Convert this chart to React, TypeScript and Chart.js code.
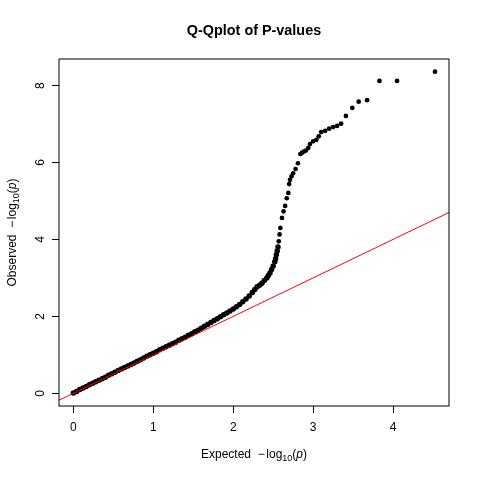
import { useEffect, useRef } from "react"
import { Chart, registerables } from "chart.js"

Chart.register(...registerables)

// expected -log10(p)
const expected = [
  0, 0.04, 0.08, 0.12, 0.16, 0.2, 0.24, 0.28, 0.32, 0.36,
  0.4, 0.44, 0.48, 0.52, 0.56, 0.6, 0.64, 0.68, 0.72, 0.76,
  0.8, 0.84, 0.88, 0.92, 0.96, 1.0, 1.04, 1.08, 1.12, 1.16,
  1.2, 1.24, 1.28, 1.32, 1.36, 1.4, 1.44, 1.48, 1.52, 1.56,
  1.6, 1.64, 1.68, 1.72, 1.76, 1.8, 1.84, 1.88, 1.92, 1.96,
  2.0, 2.04, 2.08, 2.12, 2.16, 2.2, 2.24, 2.27, 2.3, 2.33,
  2.36, 2.39, 2.42, 2.44, 2.46, 2.48, 2.5, 2.52, 2.53, 2.54,
  2.55, 2.56,
  2.57, 2.58, 2.59, 2.61, 2.63, 2.65, 2.67, 2.69, 2.7, 2.71,
  2.73, 2.75, 2.78, 2.81, 2.84, 2.86, 2.88, 2.91, 2.94, 2.96,
  3.0, 3.04, 3.07, 3.1, 3.15, 3.2, 3.25, 3.3, 3.35, 3.41,
  3.49, 3.57, 3.675, 3.83, 4.05, 4.525,
]

// observed -log10(p)
const observed = [
  0.01, 0.05, 0.1, 0.14, 0.18, 0.22, 0.26, 0.3, 0.34, 0.38,
  0.42, 0.47, 0.51, 0.55, 0.59, 0.63, 0.67, 0.71, 0.75, 0.79,
  0.83, 0.87, 0.92, 0.96, 1.0, 1.04, 1.08, 1.13, 1.17, 1.21,
  1.25, 1.29, 1.33, 1.38, 1.42, 1.46, 1.51, 1.55, 1.6, 1.64,
  1.69, 1.74, 1.79, 1.84, 1.89, 1.94, 1.99, 2.04, 2.09, 2.14,
  2.19, 2.25, 2.31, 2.38, 2.45, 2.53, 2.62, 2.7, 2.77, 2.81,
  2.86, 2.93, 3.0, 3.06, 3.13, 3.22, 3.31, 3.42, 3.5, 3.6,
  3.7, 3.8,
  3.95, 4.13, 4.3, 4.56, 4.73, 4.87, 5.07, 5.21, 5.44, 5.55,
  5.64, 5.72, 5.83, 5.98, 6.22, 6.25, 6.28, 6.31, 6.38, 6.48,
  6.55, 6.59, 6.68, 6.79, 6.82, 6.88, 6.92, 6.95, 7.01, 7.21,
  7.42, 7.58, 7.62, 8.12, 8.12, 8.36,
]

const xLimits = [-0.18, 4.7]
const yLimits = [-0.33, 8.69]
const xTicks = [0, 1, 2, 3, 4]
const yTicks = [0, 2, 4, 6, 8]

const FONT = "'Liberation Sans', Arial, Helvetica, sans-serif"

// draws "<word>  −log10(p)" centred on (x, y)
function drawLogLabel(ctx: CanvasRenderingContext2D, word: string, x: number, y: number) {
  const parts = [
    { t: word + "  ", f: `12px ${FONT}`, dy: 0 },
    { t: "\u2212", f: `12px ${FONT}`, dy: 0 },
    { t: " ", f: `6px ${FONT}`, dy: 0 },
    { t: "log", f: `12px ${FONT}`, dy: 0 },
    { t: "10", f: `9px ${FONT}`, dy: 3 },
    { t: "(", f: `12px ${FONT}`, dy: 0 },
    { t: "p", f: `italic 12px ${FONT}`, dy: 0 },
    { t: ")", f: `12px ${FONT}`, dy: 0 },
  ]
  let total = 0
  const widths = parts.map((p) => {
    ctx.font = p.f
    const w = ctx.measureText(p.t).width
    total += w
    return w
  })
  let cx = x - total / 2
  ctx.textAlign = "left"
  ctx.textBaseline = "alphabetic"
  parts.forEach((p, i) => {
    ctx.font = p.f
    ctx.fillText(p.t, cx, y + 4 + p.dy)
    cx += widths[i]
  })
}

const rPlotPlugin = {
  id: "rPlot",
  afterDraw(chart: Chart) {
    const { ctx, chartArea } = chart
    const { left, right, top, bottom } = chartArea
    ctx.save()
    ctx.strokeStyle = "#000"
    ctx.lineWidth = 1
    ctx.strokeRect(left, top, right - left, bottom - top)

    const cx = (left + right) / 2
    ctx.fillStyle = "#000"
    ctx.font = `bold 14.4px ${FONT}`
    ctx.textAlign = "center"
    ctx.textBaseline = "middle"
    ctx.fillText("Q-Qplot of P-values", cx, 31)

    drawLogLabel(ctx, "Expected", cx, 454)

    ctx.translate(12, (top + bottom) / 2)
    ctx.rotate(-Math.PI / 2)
    drawLogLabel(ctx, "Observed", 0, 0)
    ctx.restore()
  },
}

export default function App() {
  const chartRef = useRef<HTMLCanvasElement>(null)
  const chartInstance = useRef<Chart | null>(null)

  useEffect(() => {
    if (!chartRef.current) return
    if (chartInstance.current) chartInstance.current.destroy()
    const ctx = chartRef.current.getContext("2d")
    if (!ctx) return

    const points = expected.map((e, i) => ({ x: e, y: observed[i] }))
    // abline(0, 1) across the full x range
    const refLine = xLimits.map((v) => ({ x: v, y: v }))

    chartInstance.current = new Chart(ctx, {
      type: "scatter",
      data: {
        datasets: [
          {
            type: "line",
            data: refLine,
            borderColor: "#ff0000",
            borderWidth: 1,
            pointRadius: 0,
            showLine: true,
            order: 0,
          },
          {
            data: points,
            backgroundColor: "#000",
            borderWidth: 0,
            // overlapping points in the dense part read as a thicker band
            pointRadius: (c: any) => (c.raw && c.raw.y < 3.9 ? 2.75 : 2.35),
            order: 1,
          },
        ],
      },
      options: {
        animation: false,
        responsive: true,
        maintainAspectRatio: false,
        layout: { padding: { top: 59, right: 31, left: 0, bottom: 0 } },
        plugins: {
          legend: { display: false },
          tooltip: { enabled: false },
        },
        scales: {
          x: {
            type: "linear",
            min: xLimits[0],
            max: xLimits[1],
            afterFit: (s: any) => {
              s.height = 74
            },
            afterBuildTicks: (s: any) => {
              s.ticks = xTicks.map((v) => ({ value: v }))
            },
            grid: { drawOnChartArea: false, drawTicks: true, tickLength: 7, tickColor: "#000" },
            border: { display: false },
            ticks: { color: "#000", font: { family: FONT, size: 12 }, padding: 7, maxRotation: 0 },
          },
          y: {
            type: "linear",
            min: yLimits[0],
            max: yLimits[1],
            afterFit: (s: any) => {
              s.width = 59
            },
            afterBuildTicks: (s: any) => {
              s.ticks = yTicks.map((v) => ({ value: v }))
            },
            grid: { drawOnChartArea: false, drawTicks: true, tickLength: 7, tickColor: "#000" },
            border: { display: false },
            ticks: {
              color: "#000",
              font: { family: FONT, size: 12 },
              padding: 8,
              minRotation: 90,
              maxRotation: 90,
              crossAlign: "center",
            },
          },
        },
      },
      plugins: [rPlotPlugin],
    })

    return () => {
      if (chartInstance.current) chartInstance.current.destroy()
    }
  }, [])

  return (
    <div style={{ position: "fixed", left: 0, top: 0, width: 480, height: 480, background: "#fff" }}>
      <canvas ref={chartRef} />
    </div>
  )
}
